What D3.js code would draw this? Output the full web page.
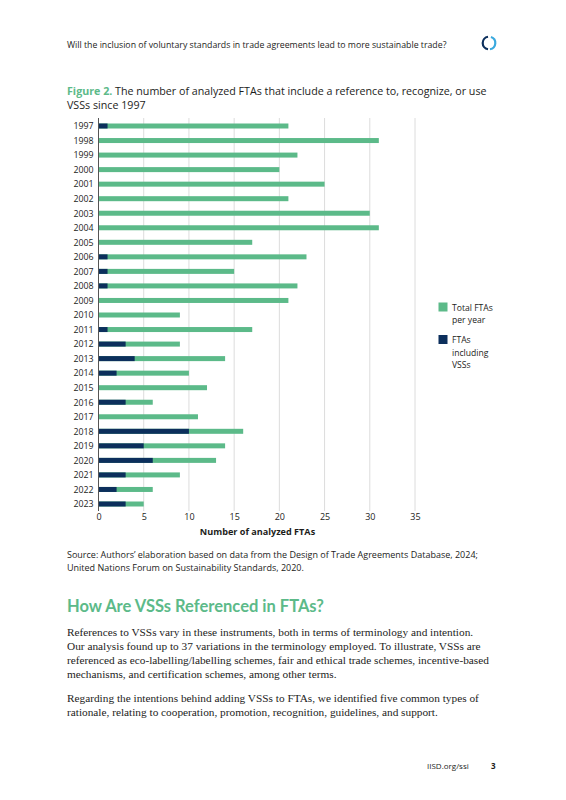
<!DOCTYPE html>
<html><head><meta charset="utf-8">
<script src="https://cdn.jsdelivr.net/npm/d3@7/dist/d3.min.js"></script>
<style>
body{margin:0;background:#fff;}
svg{display:block;}
</style></head>
<body>
<svg id="c" width="566" height="800"></svg>
<script>
const years = ["1997","1998","1999","2000","2001","2002","2003","2004","2005","2006","2007","2008","2009","2010","2011","2012","2013","2014","2015","2016","2017","2018","2019","2020","2021","2022","2023"];
const totalFTAs = [21,31,22,20,25,21,30,31,17,23,15,22,21,9,17,9,14,10,12,6,11,16,14,13,9,6,5];
const ftasVSS = [1,0,0,0,0,0,0,0,0,1,1,1,0,0,1,3,4,2,0,3,0,10,5,6,3,2,3];
const xTicks = [0,5,10,15,20,25,30,35];
const seriesNames = ["Total FTAs per year","FTAs including VSSs"];

const green = "#5cba89", navy = "#0c2f5c", ink = "#1d1d1b";
const sans = "'Open Sans', Lato, sans-serif";
const svg = d3.select("#c");

// header
svg.append("text").attr("x",67).attr("y",47.5).attr("font-family",sans).attr("font-size",8.76)
  .attr("fill",ink).text("Will the inclusion of voluntary standards in trade agreements lead to more sustainable trade?");
const logo = svg.append("g").attr("transform","translate(489,43)");
const arc = d3.arc().innerRadius(5.2).outerRadius(7.4);
logo.append("path").attr("d",arc({startAngle:Math.PI*1.05,endAngle:Math.PI*1.95})).attr("fill",navy);
logo.append("path").attr("d",arc({startAngle:Math.PI*0.1,endAngle:Math.PI*0.95})).attr("fill","#3aa9de");

// title
const t1 = svg.append("text").attr("x",67).attr("y",95).attr("font-family",sans).attr("font-size",10.7).attr("fill",ink);
t1.append("tspan").attr("fill",green).attr("font-weight","bold").text("Figure 2.");
t1.append("tspan").text(" The number of analyzed FTAs that include a reference to, recognize, or use");
svg.append("text").attr("x",67).attr("y",109).attr("font-family",sans).attr("font-size",10.7).attr("fill",ink).text("VSSs since 1997");

// scales
const x = d3.scaleLinear().domain([0,35]).range([98.5,415]);
const y = d3.scalePoint().domain(years).range([126,504]);
const bh = 5;

// grid
svg.append("g").selectAll("line").data(xTicks.filter(d=>d>0)).join("line")
  .attr("x1",d=>x(d)).attr("x2",d=>x(d)).attr("y1",118).attr("y2",511)
  .attr("stroke","#dcdcdc").attr("stroke-width",1);

// bars
svg.append("g").selectAll("rect").data(years).join("rect")
  .attr("x",x(0)).attr("y",d=>y(d)-bh/2).attr("height",bh)
  .attr("width",(d,i)=>x(totalFTAs[i])-x(0)).attr("fill",green);
svg.append("g").selectAll("rect").data(years).join("rect")
  .attr("x",x(0)).attr("y",d=>y(d)-bh/2).attr("height",bh)
  .attr("width",(d,i)=>x(ftasVSS[i])-x(0)).attr("fill",navy);

// y axis
const ya = svg.append("g").attr("transform",`translate(${x(0)},0)`)
  .call(d3.axisLeft(y).tickSize(0).tickPadding(5));
ya.select(".domain").attr("d",`M0,118V511`).attr("stroke","#555").attr("stroke-width",1);
ya.selectAll("text").attr("font-family",sans).attr("font-size",8.8).attr("fill",ink);

// x axis
const xa = svg.append("g").attr("transform","translate(0,508)")
  .call(d3.axisBottom(x).tickValues(xTicks).tickSize(0).tickPadding(6));
xa.select(".domain").remove();
xa.selectAll("text").attr("font-family",sans).attr("font-size",9).attr("fill",ink);
svg.append("text").attr("x",257.5).attr("y",535).attr("text-anchor","middle").attr("font-family",sans)
  .attr("font-size",9.1).attr("font-weight","bold").attr("fill",ink).text("Number of analyzed FTAs");

// legend
const leg = [{c:green,l:["Total FTAs","per year"]},{c:navy,l:["FTAs","including","VSSs"]}];
leg.forEach((d,i)=>{
  const gy = 302.5 + i*32.5;
  svg.append("rect").attr("x",438.5).attr("y",gy).attr("width",9).attr("height",9).attr("fill",d.c);
  d.l.forEach((s,j)=>svg.append("text").attr("x",452).attr("y",gy+8+j*12.5).attr("font-family",sans)
    .attr("font-size",8.6).attr("fill",ink).text(s));
});

// source
["Source: Authors’ elaboration based on data from the Design of Trade Agreements Database, 2024;",
 "United Nations Forum on Sustainability Standards, 2020."].forEach((s,i)=>
  svg.append("text").attr("x",67).attr("y",558+i*12.5).attr("font-family",sans).attr("font-size",9).attr("fill",ink).text(s));

// heading
svg.append("text").attr("x",67).attr("y",612).attr("font-family","Lato, sans-serif").attr("font-size",16.5)
  .attr("font-weight","bold").attr("fill",green).text("How Are VSSs Referenced in FTAs?");

// body
const serif = "'Liberation Serif', 'Times New Roman', serif";
const body = [
 [636,"References to VSSs vary in these instruments, both in terms of terminology and intention."],
 [650,"Our analysis found up to 37 variations in the terminology employed. To illustrate, VSSs are"],
 [664,"referenced as eco-labelling/labelling schemes, fair and ethical trade schemes, incentive-based"],
 [678,"mechanisms, and certification schemes, among other terms."],
 [702,"Regarding the intentions behind adding VSSs to FTAs, we identified five common types of"],
 [716,"rationale, relating to cooperation, promotion, recognition, guidelines, and support."]];
body.forEach(([yy,s])=>svg.append("text").attr("x",67).attr("y",yy).attr("font-family",serif)
  .attr("font-size",11.3).attr("fill",ink).text(s));

// footer
svg.append("text").attr("x",427).attr("y",769).attr("font-family",sans).attr("font-size",8).attr("fill",ink).text("IISD.org/ssi");
svg.append("text").attr("x",491).attr("y",769).attr("font-family",sans).attr("font-size",8).attr("font-weight","bold").attr("fill",ink).text("3");
</script>
</body></html>
